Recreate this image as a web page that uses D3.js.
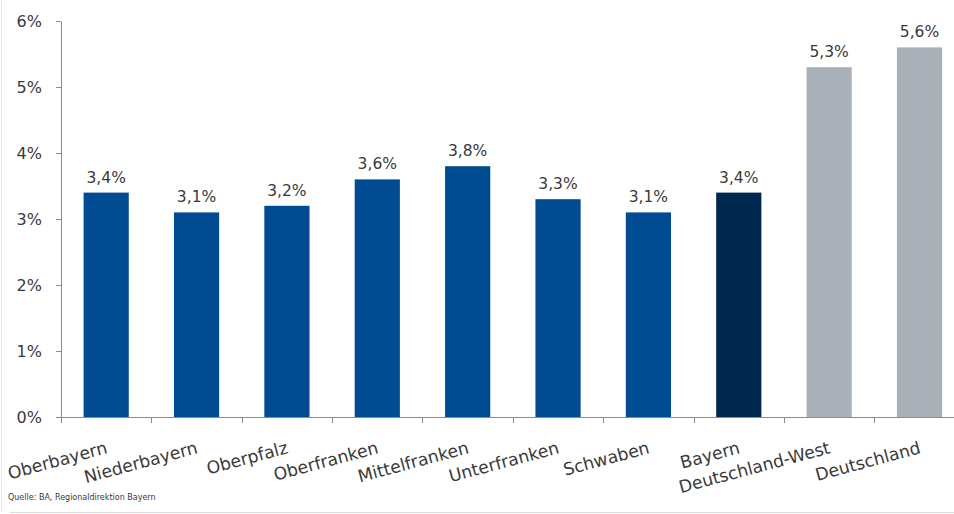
<!DOCTYPE html>
<html>
<head>
<meta charset="utf-8">
<script src="https://cdn.jsdelivr.net/npm/d3@7"></script>
<style>
  html, body { margin: 0; padding: 0; background: #fff; }
  svg { display: block; }
  text { font-family: "DejaVu Sans", sans-serif; fill: #3a3a3a; }
</style>
</head>
<body>
<svg id="chart" width="954" height="514"></svg>
<script>
// Arbeitslosenquote nach Regierungsbezirken
const categories = ["Oberbayern", "Niederbayern", "Oberpfalz", "Oberfranken", "Mittelfranken",
  "Unterfranken", "Schwaben", "Bayern", "Deutschland-West", "Deutschland"];
const values = [3.4, 3.1, 3.2, 3.6, 3.8, 3.3, 3.1, 3.4, 5.3, 5.6];
const groups = ["bezirk", "bezirk", "bezirk", "bezirk", "bezirk", "bezirk", "bezirk", "land", "bund", "bund"];
const yTicks = [0, 1, 2, 3, 4, 5, 6];
const source = "Quelle: BA, Regionaldirektion Bayern";

const colors = { bezirk: "#004b91", land: "#00284f", bund: "#a9b0b7" };
const fmt = v => v.toFixed(1).replace(".", ",") + "%";

const svg = d3.select("#chart");
const W = 954, H = 514;
const left = 61, axisY = 417, topY = 21;

const x = d3.scaleBand().domain(categories).range([left, left + 903.7]).paddingInner(0.5).paddingOuter(0.25);
const y = d3.scaleLinear().domain([0, 6]).range([axisY, topY]);

// light frame lines
svg.append("line").attr("x1", 1.5).attr("x2", 1.5).attr("y1", 0).attr("y2", 512)
  .attr("stroke", "#e8e8e8");
svg.append("line").attr("x1", 10).attr("x2", W).attr("y1", 512.5).attr("y2", 512.5)
  .attr("stroke", "#dcdcdc");

// bars
svg.selectAll("rect.bar").data(categories).join("rect")
  .attr("class", "bar")
  .attr("x", d => x(d))
  .attr("width", x.bandwidth())
  .attr("y", (d, i) => y(values[i]))
  .attr("height", (d, i) => y(0) - y(values[i]))
  .attr("fill", (d, i) => colors[groups[i]]);

// value labels
svg.selectAll("text.val").data(categories).join("text")
  .attr("class", "val")
  .attr("x", d => x(d) + x.bandwidth() / 2)
  .attr("y", (d, i) => y(values[i]) - 10)
  .attr("text-anchor", "middle")
  .style("font-size", "15.5px")
  .text((d, i) => fmt(values[i]));

// y axis
const yAxis = svg.append("g").attr("transform", `translate(${left},0)`)
  .call(d3.axisLeft(y).tickValues(yTicks).tickSize(5).tickSizeOuter(0).tickFormat(d => d + "%"));
yAxis.select(".domain").attr("stroke", "#8c8c8c");
yAxis.selectAll(".tick line").attr("stroke", "#8c8c8c");
yAxis.selectAll(".tick text").attr("x", -19).style("font-size", "16px")
  .style("font-family", "DejaVu Sans").attr("fill", "#3a3a3a");

// x axis line with ticks between categories
const step = x.step();
const boundaries = d3.range(categories.length + 1).map(i => left + i * step);
svg.append("line").attr("x1", left).attr("x2", W).attr("y1", axisY + 0.5).attr("y2", axisY + 0.5)
  .attr("stroke", "#8c8c8c");
svg.selectAll("line.xtick").data(boundaries).join("line")
  .attr("class", "xtick")
  .attr("x1", d => Math.round(d) + 0.5).attr("x2", d => Math.round(d) + 0.5)
  .attr("y1", axisY).attr("y2", axisY + 6)
  .attr("stroke", "#8c8c8c");

// rotated category labels
svg.selectAll("text.cat").data(categories).join("text")
  .attr("class", "cat")
  .attr("transform", d => `translate(${x(d) + x.bandwidth() / 2 + 2},453) rotate(-15)`)
  .attr("text-anchor", "end")
  .style("font-size", "17.2px")
  .text(d => d);

// source note
svg.append("text").attr("x", 8).attr("y", 500)
  .style("font-size", "8px").attr("fill", "#555")
  .text(source);
</script>
</body>
</html>
